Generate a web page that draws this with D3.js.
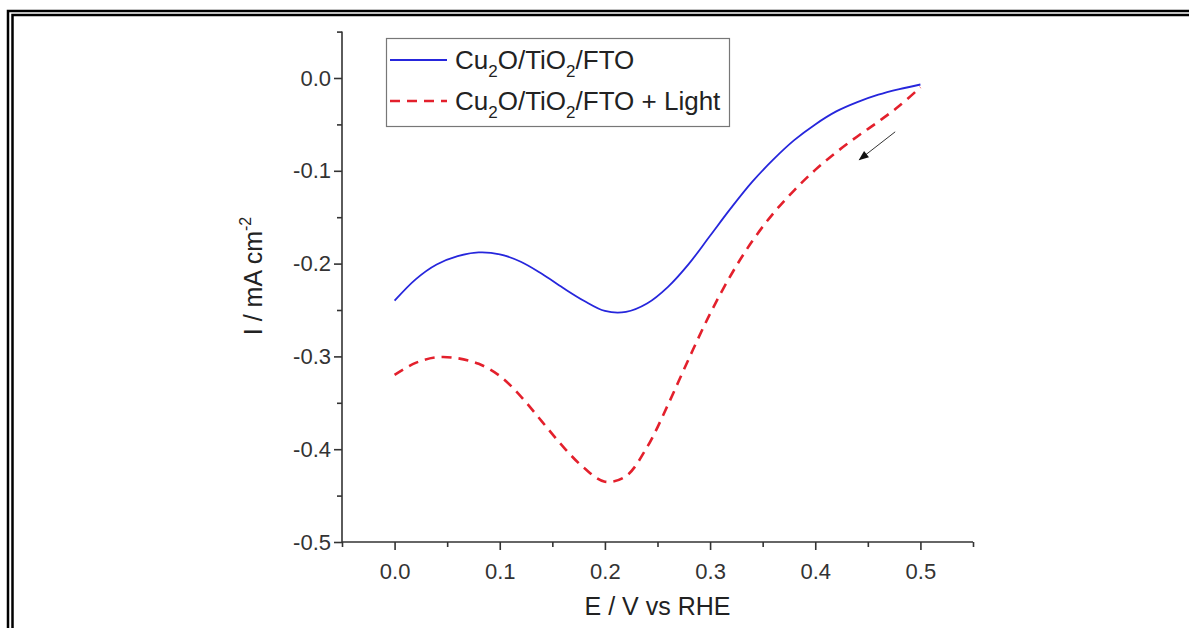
<!DOCTYPE html>
<html>
<head>
<meta charset="utf-8">
<script src="https://cdn.jsdelivr.net/npm/d3@7"></script>
<style>
  html, body { margin: 0; padding: 0; background: #fff; }
  svg { display: block; font-family: "Liberation Sans", Arial, sans-serif; }
</style>
</head>
<body>
<svg id="chart" width="1189" height="628"></svg>
<script>
// Potential (V vs RHE) at which the current was sampled
const potential = [0.00, 0.02, 0.04, 0.06, 0.08, 0.10, 0.12, 0.14, 0.16, 0.18, 0.20,
                   0.22, 0.24, 0.26, 0.28, 0.30, 0.32, 0.34, 0.36, 0.38, 0.40, 0.42, 0.44,
                   0.46, 0.48, 0.50];
// Current density (mA cm^-2) in the dark
const currentDark = [-0.240, -0.217, -0.201, -0.192, -0.188, -0.190, -0.198, -0.211, -0.226,
                     -0.240, -0.251, -0.252, -0.243, -0.225, -0.200, -0.170, -0.140,
                     -0.112, -0.088, -0.067, -0.050, -0.036, -0.026, -0.018, -0.012, -0.007];
// Current density (mA cm^-2) under illumination
const currentLight = [-0.320, -0.307, -0.301, -0.302, -0.308, -0.321, -0.343, -0.370, -0.397,
                      -0.420, -0.435, -0.429, -0.398, -0.352, -0.302, -0.254, -0.212,
                      -0.176, -0.146, -0.121, -0.099, -0.080, -0.063, -0.047, -0.030, -0.010];
const xTicks = [0.0, 0.1, 0.2, 0.3, 0.4, 0.5];
const yTicks = [0.0, -0.1, -0.2, -0.3, -0.4, -0.5];
const xMinorTicks = [-0.05, 0.05, 0.15, 0.25, 0.35, 0.45, 0.55];
const yMinorTicks = [0.05, -0.05, -0.15, -0.25, -0.35, -0.45];
// Scan direction arrow: [potential, current] of tail and head
const scanArrow = [[0.476, -0.058], [0.442, -0.088]];

const svg = d3.select("#chart");

// Double frame line around the figure
const frame = svg.append("g").attr("fill", "none").attr("stroke", "#000").attr("stroke-width", 2.5);
frame.append("path").attr("d", "M8,628 L8,11 L1189,11");
frame.append("path").attr("d", "M12.5,628 L12.5,15 L1189,15");

const x = d3.scaleLinear().domain([-0.05, 0.55]).range([342, 973]);
const y = d3.scaleLinear().domain([-0.5, 0.05]).range([542, 31.6]);

const tickColor = "#333";
const fmt = d3.format(".1f");
const minus = s => s.replace("\u2212", "-");

// X axis (major and minor ticks pointing outward)
const gx = svg.append("g").attr("transform", `translate(0,${y(-0.5)})`);
gx.call(d3.axisBottom(x).tickValues(xTicks).tickSize(8).tickPadding(13).tickFormat(d => minus(fmt(d))));
gx.append("g").call(d3.axisBottom(x).tickValues(xMinorTicks).tickSize(5).tickFormat(""));
gx.selectAll(".domain").remove();
gx.append("line").attr("x1", x(-0.05)).attr("x2", x(0.55)).attr("stroke", tickColor).attr("stroke-width", 1.6);

// Y axis
const gy = svg.append("g").attr("transform", `translate(${x(-0.05)},0)`);
gy.call(d3.axisLeft(y).tickValues(yTicks).tickSize(8).tickPadding(3).tickFormat(d => minus(fmt(d))));
gy.append("g").call(d3.axisLeft(y).tickValues(yMinorTicks).tickSize(5).tickFormat(""));
gy.selectAll(".domain").remove();
gy.append("line").attr("y1", y(0.05)).attr("y2", y(-0.5) + 1).attr("stroke", tickColor).attr("stroke-width", 1.6);

svg.selectAll(".tick line").attr("stroke", tickColor).attr("stroke-width", 1.6);
svg.selectAll(".tick text").attr("fill", "#333").attr("font-size", 22)
   .attr("font-family", "Liberation Sans, Arial, sans-serif");

// Axis titles
svg.append("text").attr("x", (x(-0.05) + x(0.55)) / 2).attr("y", 615)
   .attr("text-anchor", "middle").attr("font-size", 25).attr("fill", "#222")
   .text("E / V vs RHE");

const yTitle = svg.append("text")
   .attr("transform", `translate(262,276) rotate(-90)`)
   .attr("text-anchor", "middle").attr("font-size", 25).attr("fill", "#222");
yTitle.append("tspan").text("I / mA cm");
yTitle.append("tspan").attr("font-size", 16).attr("dy", -11).text("-2");

// Curves
const line = d3.line().curve(d3.curveCatmullRom.alpha(0.5)).x(d => x(d[0])).y(d => y(d[1]));
svg.append("path").datum(d3.zip(potential, currentDark))
   .attr("fill", "none").attr("stroke", "#2626dc").attr("stroke-width", 1.8)
   .attr("d", line);
svg.append("path").datum(d3.zip(potential, currentLight))
   .attr("fill", "none").attr("stroke", "#e3202c").attr("stroke-width", 2.6)
   .attr("stroke-dasharray", "10,7")
   .attr("d", line);

// Scan direction arrow
svg.append("defs").append("marker").attr("id", "head")
   .attr("viewBox", "0 0 10 10").attr("refX", 9).attr("refY", 5)
   .attr("markerWidth", 11).attr("markerHeight", 10).attr("markerUnits", "userSpaceOnUse")
   .attr("orient", "auto")
   .append("path").attr("d", "M0,1 L10,5 L0,9 Z").attr("fill", "#111");
svg.append("line")
   .attr("x1", x(scanArrow[0][0])).attr("y1", y(scanArrow[0][1]))
   .attr("x2", x(scanArrow[1][0])).attr("y2", y(scanArrow[1][1]))
   .attr("stroke", "#333").attr("stroke-width", 1)
   .attr("marker-end", "url(#head)");

// Legend
const legend = svg.append("g");
legend.append("rect").attr("x", 386.5).attr("y", 38.5).attr("width", 343).attr("height", 88)
   .attr("fill", "#fff").attr("stroke", "#777").attr("stroke-width", 1.2);
const legendItems = [
  { color: "#2626dc", dash: null, width: 1.8, cy: 60, parts: ["Cu", "2", "O/TiO", "2", "/FTO"] },
  { color: "#e3202c", dash: "10,7", width: 2.6, cy: 101, parts: ["Cu", "2", "O/TiO", "2", "/FTO + Light"] }
];
legendItems.forEach(it => {
  legend.append("line").attr("x1", 390).attr("x2", 447).attr("y1", it.cy).attr("y2", it.cy)
     .attr("stroke", it.color).attr("stroke-width", it.width)
     .attr("stroke-dasharray", it.dash);
  const t = legend.append("text").attr("x", 455).attr("y", it.cy + 9)
     .attr("font-size", 26).attr("fill", "#222");
  it.parts.forEach((p, i) => {
    const isSub = i % 2 === 1;
    const ts = t.append("tspan").text(p);
    if (isSub) ts.attr("font-size", 17).attr("dy", 8);
    else if (i > 0) ts.attr("dy", -8);
  });
});
</script>
</body>
</html>
